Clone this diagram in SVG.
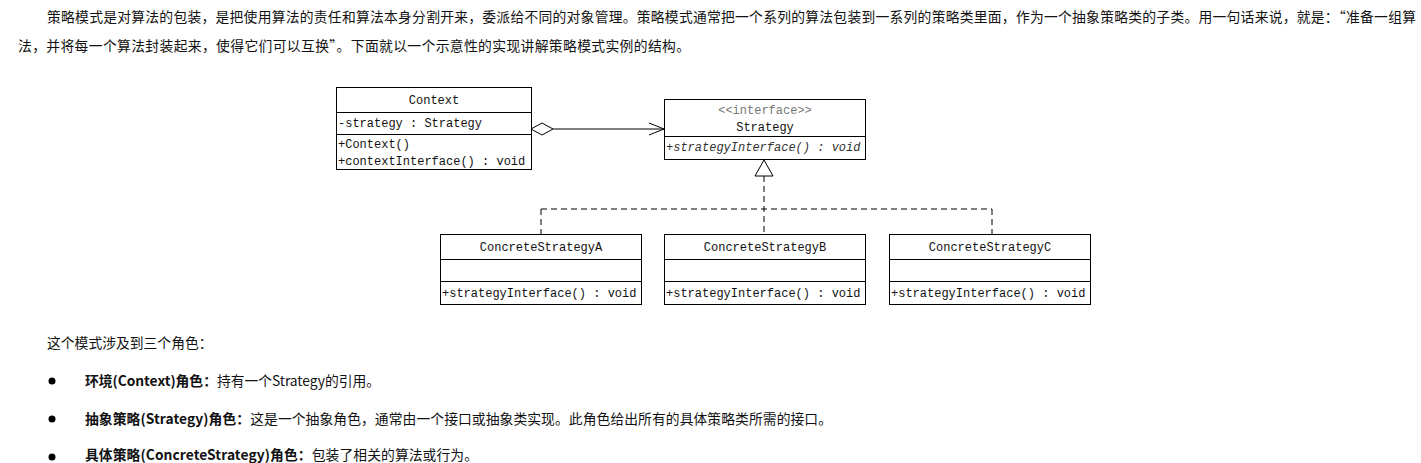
<svg xmlns="http://www.w3.org/2000/svg" width="1421" height="463" viewBox="0 0 1421 463">
<style>
.p{font-family:"Noto Sans CJK SC","Noto Sans",sans-serif;font-size:13.8px;fill:#111}
.b{font-weight:bold}
.u{font-family:"Liberation Mono","DejaVu Sans Mono",monospace;font-size:12px;fill:#111}
.box{fill:#fff;stroke:#000;stroke-width:1}
.ln{stroke:#000;stroke-width:1;fill:none}
.dash{stroke:#000;stroke-width:1;fill:none;stroke-dasharray:6,4}
.dot{fill:#000}
</style>
<rect width="1421" height="463" fill="#fff"/>
<g id="intro">
<text class="p" x="47" y="22" textLength="1369" lengthAdjust="spacing">策略模式是对算法的包装，是把使用算法的责任和算法本身分割开来，委派给不同的对象管理。策略模式通常把一个系列的算法包装到一系列的策略类里面，作为一个抽象策略类的子类。用一句话来说，就是：“准备一组算</text>
<text class="p" x="18" y="51" textLength="672" lengthAdjust="spacing">法，并将每一个算法封装起来，使得它们可以互换”。下面就以一个示意性的实现讲解策略模式实例的结构。</text>
</g>
<g id="connectors">
<line class="ln" x1="553" y1="129" x2="664" y2="129"/>
<polygon class="box" points="531,129 542,123 553,129 542,135"/>
<polyline class="ln" points="649,123 664,129 649,135"/>
<line class="dash" x1="764" y1="176" x2="764" y2="234"/>
<line class="dash" x1="541" y1="209" x2="992" y2="209"/>
<line class="dash" x1="541" y1="209" x2="541" y2="234"/>
<line class="dash" x1="992" y1="209" x2="992" y2="234"/>
<polygon class="box" points="764,160 755,176 773,176"/>
</g>
<g id="Context">
<rect class="box" x="336.5" y="87.5" width="195" height="82"/>
<line class="ln" x1="336.5" y1="112.5" x2="531.5" y2="112.5"/>
<line class="ln" x1="336.5" y1="134.5" x2="531.5" y2="134.5"/>
<text class="u" x="434" y="104" text-anchor="middle">Context</text>
<text class="u" x="338" y="127">-strategy : Strategy</text>
<text class="u" x="338" y="148">+Context()</text>
<text class="u" x="338" y="165">+contextInterface() : void</text>
</g>
<g id="Strategy">
<rect class="box" x="664.5" y="99.5" width="201" height="60"/>
<line class="ln" x1="664.5" y1="136.5" x2="865.5" y2="136.5"/>
<text class="u" x="765" y="114" text-anchor="middle" style="fill:#777">&lt;&lt;interface&gt;&gt;</text>
<text class="u" x="765" y="131" text-anchor="middle">Strategy</text>
<text class="u" x="666" y="151" font-style="italic" style="fill:#333">+strategyInterface() : void</text>
</g>
<g id="ConcreteStrategyA">
<rect class="box" x="440.5" y="234.5" width="201" height="70"/>
<line class="ln" x1="440.5" y1="259.5" x2="641.5" y2="259.5"/>
<line class="ln" x1="440.5" y1="281.5" x2="641.5" y2="281.5"/>
<text class="u" x="541" y="251" text-anchor="middle">ConcreteStrategyA</text>
<text class="u" x="442" y="297">+strategyInterface() : void</text>
</g>
<g id="ConcreteStrategyB">
<rect class="box" x="664.5" y="234.5" width="201" height="70"/>
<line class="ln" x1="664.5" y1="259.5" x2="865.5" y2="259.5"/>
<line class="ln" x1="664.5" y1="281.5" x2="865.5" y2="281.5"/>
<text class="u" x="765" y="251" text-anchor="middle">ConcreteStrategyB</text>
<text class="u" x="666" y="297">+strategyInterface() : void</text>
</g>
<g id="ConcreteStrategyC">
<rect class="box" x="889.5" y="234.5" width="201" height="70"/>
<line class="ln" x1="889.5" y1="259.5" x2="1090.5" y2="259.5"/>
<line class="ln" x1="889.5" y1="281.5" x2="1090.5" y2="281.5"/>
<text class="u" x="990" y="251" text-anchor="middle">ConcreteStrategyC</text>
<text class="u" x="891" y="297">+strategyInterface() : void</text>
</g>
<g id="roles">
<text class="p" x="47" y="348">这个模式涉及到三个角色：</text>
<circle class="dot" cx="52" cy="381" r="3.5"/>
<text class="p" x="85" y="386" textLength="295" lengthAdjust="spacing"><tspan class="b">环境(Context)角色：</tspan>持有一个Strategy的引用。</text>
<circle class="dot" cx="52" cy="419" r="3.5"/>
<text class="p" x="85" y="424" textLength="747" lengthAdjust="spacing"><tspan class="b">抽象策略(Strategy)角色：</tspan>这是一个抽象角色，通常由一个接口或抽象类实现。此角色给出所有的具体策略类所需的接口。</text>
<circle class="dot" cx="52" cy="457" r="3.5"/>
<text class="p" x="85" y="460" textLength="393" lengthAdjust="spacing"><tspan class="b">具体策略(ConcreteStrategy)角色：</tspan>包装了相关的算法或行为。</text>
</g>
</svg>
